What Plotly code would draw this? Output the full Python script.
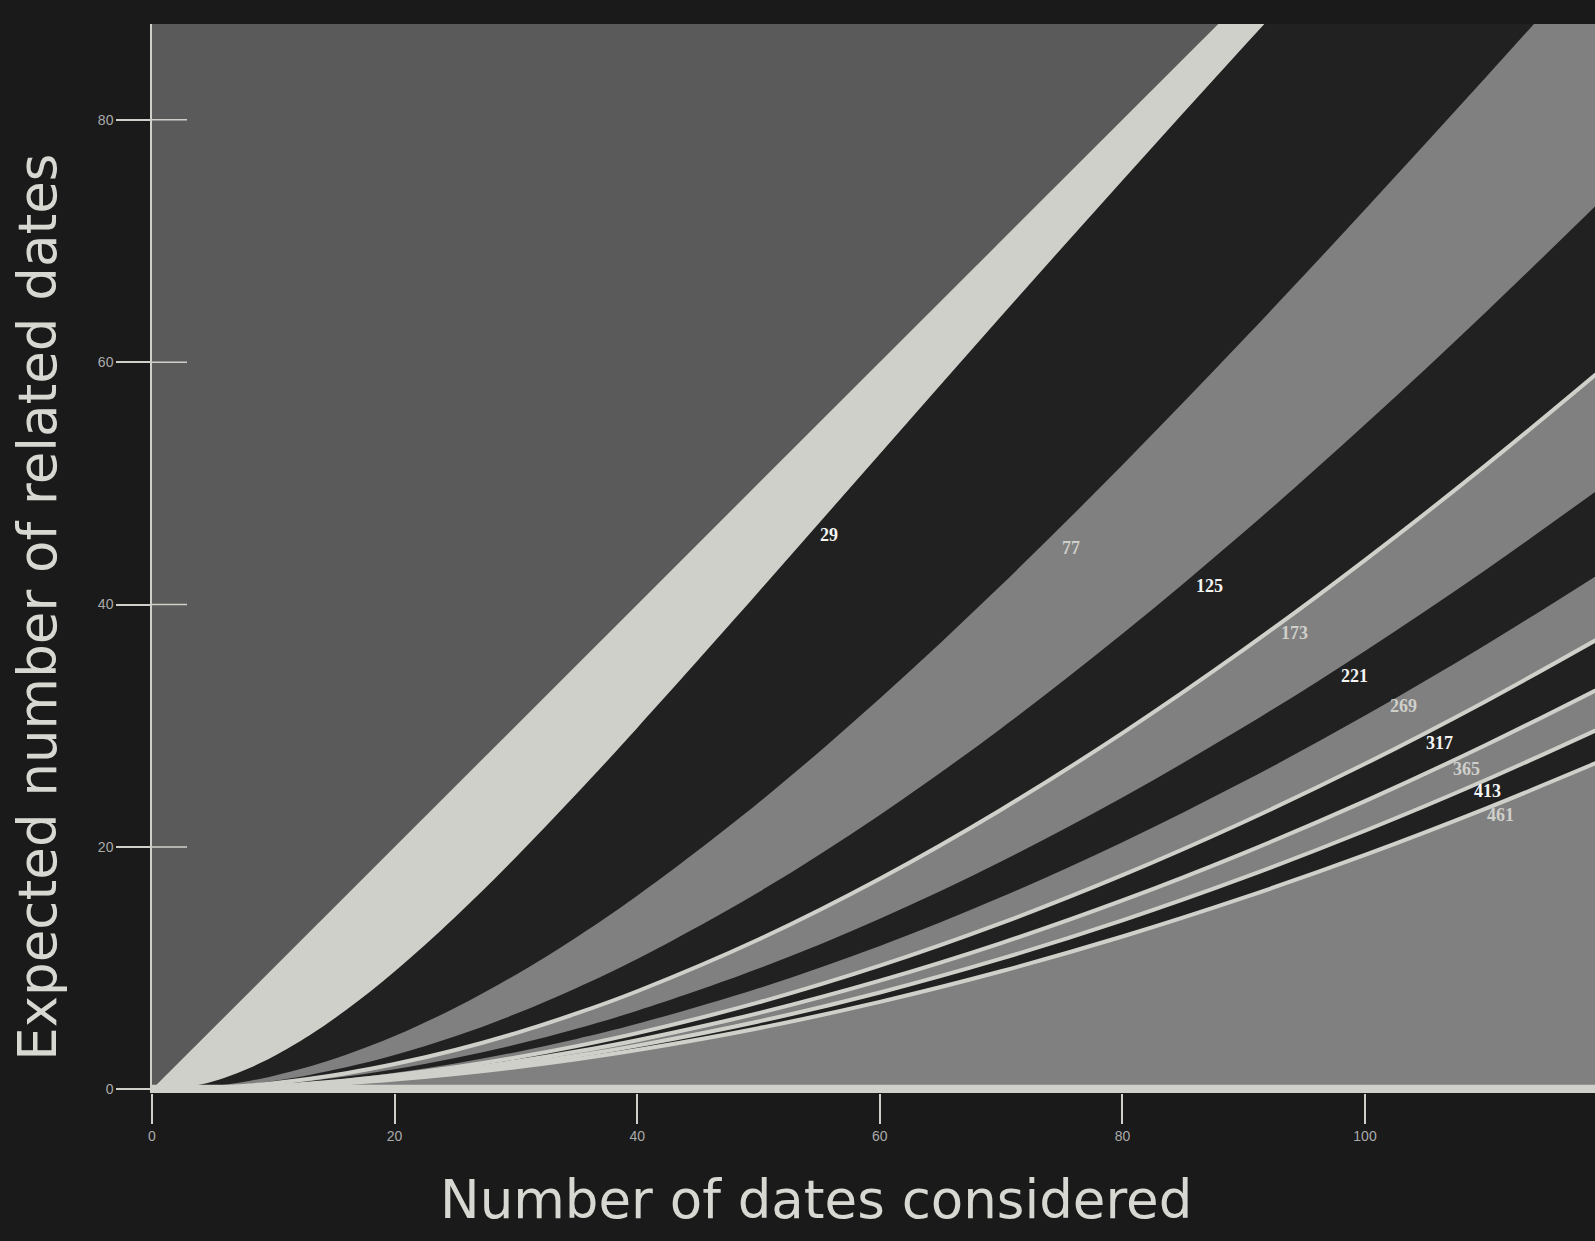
import plotly.graph_objects as go

# ---------------- data ----------------
n_values = [0, 1, 2, 4, 6, 8, 10, 13, 16, 20, 25, 30, 35, 40, 50, 60, 70, 80, 90, 100, 110, 120]

y_29 = [0, 0, 0.069, 0.400, 0.966, 1.742, 2.708, 4.468, 6.548, 9.732, 14.231, 19.157, 24.386, 29.821, 41.041, 52.431, 63.784, 74.997, 86.039, 96.901, 107.600, 118.157]
y_77 = [0, 0, 0.026, 0.154, 0.380, 0.700, 1.110, 1.887, 2.849, 4.398, 6.732, 9.466, 12.558, 15.975, 23.650, 32.254, 41.595, 51.517, 61.883, 72.586, 83.541, 94.670]
y_125 = [0, 0, 0.016, 0.095, 0.236, 0.437, 0.697, 1.195, 1.816, 2.831, 4.383, 6.234, 8.364, 10.757, 16.268, 22.646, 29.783, 37.586, 45.966, 54.850, 64.167, 73.860]
y_173 = [0, 0, 0.012, 0.069, 0.171, 0.318, 0.508, 0.874, 1.333, 2.086, 3.247, 4.642, 6.261, 8.094, 12.364, 17.380, 23.077, 29.394, 36.275, 43.669, 51.525, 59.802]
y_221 = [0, 0, 0.009, 0.054, 0.135, 0.250, 0.400, 0.689, 1.052, 1.651, 2.578, 3.697, 5.001, 6.484, 9.963, 14.086, 18.808, 24.090, 29.889, 36.172, 42.902, 50.047]
y_269 = [0, 0, 0.007, 0.044, 0.111, 0.206, 0.330, 0.568, 0.869, 1.366, 2.138, 3.071, 4.163, 5.408, 8.341, 11.836, 15.863, 20.393, 25.393, 30.838, 36.703, 42.964]
y_317 = [0, 0, 0.006, 0.038, 0.094, 0.175, 0.280, 0.484, 0.741, 1.165, 1.826, 2.627, 3.565, 4.637, 7.172, 10.204, 13.712, 17.671, 22.061, 26.860, 32.050, 37.608]
y_365 = [0, 0, 0.005, 0.033, 0.082, 0.152, 0.244, 0.421, 0.645, 1.016, 1.593, 2.294, 3.117, 4.059, 6.290, 8.967, 12.072, 15.588, 19.498, 23.784, 28.432, 33.425]
y_413 = [0, 0, 0.005, 0.029, 0.072, 0.135, 0.216, 0.373, 0.571, 0.900, 1.413, 2.037, 2.769, 3.608, 5.600, 7.996, 10.782, 13.943, 17.465, 21.337, 25.543, 30.072]
y_461 = [0, 0, 0.004, 0.026, 0.065, 0.121, 0.194, 0.334, 0.513, 0.808, 1.270, 1.831, 2.491, 3.248, 5.047, 7.216, 9.741, 12.612, 15.817, 19.345, 23.186, 27.328]

diag_x = [0, 120]
diag_y = [0, 120]

day_counts = [29, 77, 125, 173, 221, 269, 317, 365, 413, 461]
series = [y_29, y_77, y_125, y_173, y_221, y_269, y_317, y_365, y_413, y_461]
outlined = [173, 317, 365, 413, 461]

label_x = [55.8, 75.8, 87.2, 94.15, 99.1, 103.15, 106.1, 108.35, 110.1, 111.15]
label_y = [45.7, 44.7, 41.55, 37.65, 34.1, 31.65, 28.6, 26.45, 24.65, 22.6]

x_ticks = [0, 20, 40, 60, 80, 100]
y_ticks = [0, 20, 40, 60, 80]

# ---------------- styles ----------------
PAPER = "#1a1a1a"
PLOTBG = "#5a5a5a"
LIGHT = "#d0d0cb"
DARK = "#212121"
GRAY = "#808080"
TICKTXT = "#aaaaaa"

fig = go.Figure()

# light band: from y = x down
fig.add_trace(go.Scatter(x=diag_x, y=diag_y, mode="lines", fill="tozeroy",
                         fillcolor=LIGHT, line=dict(width=0, color=LIGHT),
                         hoverinfo="skip", showlegend=False))

for i, (d, ys) in enumerate(zip(day_counts, series)):
    col = DARK if i % 2 == 0 else GRAY
    fig.add_trace(go.Scatter(x=n_values, y=ys, mode="lines", fill="tozeroy",
                             fillcolor=col, line=dict(width=0, color=col, shape="spline"),
                             hoverinfo="skip", showlegend=False))

for d, ys in zip(day_counts, series):
    if d in outlined:
        fig.add_trace(go.Scatter(x=n_values, y=ys, mode="lines",
                                 line=dict(width=4, color=LIGHT, shape="spline"),
                                 hoverinfo="skip", showlegend=False))

# baseline
fig.add_trace(go.Scatter(x=diag_x, y=[0, 0], mode="lines",
                         line=dict(width=9, color=LIGHT),
                         hoverinfo="skip", showlegend=False))

annotations = []
for i, (d, lx, ly) in enumerate(zip(day_counts, label_x, label_y)):
    col = "#f4f4f4" if i % 2 == 0 else "#cfcfca"
    annotations.append(dict(x=lx, y=ly, xref="x", yref="y", text=str(d), showarrow=False,
                            xanchor="center", yanchor="middle",
                            font=dict(family="Liberation Serif", size=18, color=col, weight="bold")))

annotations.append(dict(x=0.4602, y=-0.0992, xref="paper", yref="paper",
                        text="Number of dates considered", showarrow=False,
                        xanchor="center", yanchor="middle",
                        font=dict(family="DejaVu Sans", size=53, color="#d8d8d2")))
annotations.append(dict(x=-0.0799, y=0.4546, xref="paper", yref="paper",
                        text="Expected number of related dates", showarrow=False, textangle=-90,
                        xanchor="center", yanchor="middle",
                        font=dict(family="DejaVu Sans", size=53, color="#d8d8d2")))

shapes = []
for t in y_ticks[1:]:
    shapes.append(dict(type="line", xref="x", yref="y", x0=0, x1=2.885, y0=t, y1=t,
                       layer="below", line=dict(color=LIGHT, width=1.5)))

fig.update_layout(
    width=1595, height=1241,
    margin=dict(l=152, r=0, t=24, b=148),
    paper_bgcolor=PAPER, plot_bgcolor=PLOTBG,
    annotations=annotations, shapes=shapes,
    xaxis=dict(range=[0, 118.96], tickvals=x_ticks, ticks="outside", ticklen=30,
               tickwidth=1.5, tickcolor=LIGHT, showgrid=False, zeroline=False,
               showline=False, layer="below traces",
               tickfont=dict(family="Liberation Sans", size=14, color=TICKTXT)),
    yaxis=dict(range=[-0.3, 87.9], tickvals=y_ticks, ticks="outside", ticklen=34,
               tickwidth=1.5, tickcolor=LIGHT, showgrid=False, zeroline=False,
               showline=True, linecolor=LIGHT, linewidth=1.5, layer="below traces",
               tickfont=dict(family="Liberation Sans", size=14, color=TICKTXT)),
)

fig.write_html("out.html", config={"displayModeBar": False},
               post_script="document.body.style.margin='0';document.body.style.background='#1a1a1a';document.body.style.overflow='hidden';")
